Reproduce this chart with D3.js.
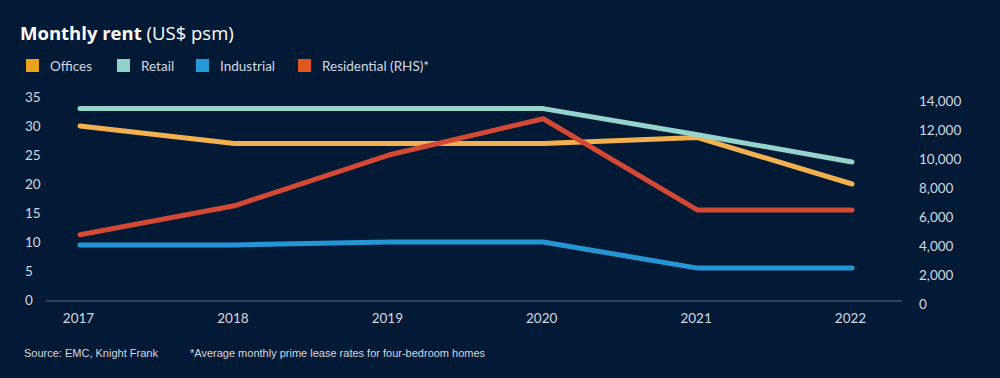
<!DOCTYPE html>
<html>
<head>
<meta charset="utf-8">
<script src="https://cdn.jsdelivr.net/npm/d3@7"></script>
<style>
  html, body { margin: 0; padding: 0; background: #031a37; }
  svg { display: block; }
</style>
</head>
<body>
<svg id="chart" width="1000" height="378"></svg>
<script>
// data
const years = ["2017", "2018", "2019", "2020", "2021", "2022"];
const offices = [30, 27, 27, 27, 28, 20];
const retail = [33, 33, 33, 33, 28.5, 23.8];
const industrial = [9.5, 9.5, 10, 10, 5.5, 5.5];
const residential = [4500, 6500, 10000, 12500, 6200, 6200]; // RHS
const leftTicks = [0, 5, 10, 15, 20, 25, 30, 35];
const rightTicks = [0, 2000, 4000, 6000, 8000, 10000, 12000, 14000];

const series = [
  { name: "Offices", values: offices, axis: "L", line: "#f3b04f", swatch: "#eaa31c" },
  { name: "Retail", values: retail, axis: "L", line: "#95d4cd", swatch: "#8fd3c8" },
  { name: "Industrial", values: industrial, axis: "L", line: "#2596d5", swatch: "#2599d8" },
  { name: "Residential (RHS)*", values: residential, axis: "R", line: "#d44836", swatch: "#e2561f" }
];

const svg = d3.select("#chart");
const W = 1000, H = 378;
const FONT = "Lato, 'Open Sans', sans-serif";
const txtCol = "#d3d8e0";

svg.append("rect").attr("width", W).attr("height", H).attr("fill", "#031a37");

const x = d3.scalePoint().domain(years).range([80, 852]);
const yL = d3.scaleLinear().domain([0, 35]).range([300, 97]);
const yR = d3.scaleLinear().domain([0, 14000]).range([300, 97]);

// Tiêu đề
const title = svg.append("text")
  .attr("x", 20).attr("y", 40)
  .style("font-family", "'Open Sans', sans-serif")
  .style("font-size", "18.5px")
  .attr("fill", "#ffffff");
title.append("tspan").style("font-weight", "bold").text("Monthly rent ");
title.append("tspan").style("font-weight", "normal").text("(US$ psm)");

// Legend
const legendX = [26, 117, 196, 298];
const lg = svg.append("g").selectAll("g")
  .data(series).enter().append("g")
  .attr("transform", (d, i) => `translate(${legendX[i]},59)`);
lg.append("rect").attr("width", 13).attr("height", 13).attr("fill", d => d.swatch);
lg.append("text")
  .attr("x", 24).attr("y", 11.5)
  .style("font-family", FONT).style("font-size", "13.5px")
  .attr("fill", txtCol)
  .text(d => d.name);

// Trục trái
const axL = svg.append("g")
  .call(d3.axisLeft(yL).tickValues(leftTicks).tickSize(0).tickPadding(0));
axL.select(".domain").remove();
axL.selectAll("text")
  .attr("x", 25).attr("text-anchor", "start")
  .style("font-family", FONT).style("font-size", "13.5px")
  .attr("fill", txtCol);

// Trục phải
const axR = svg.append("g")
  .call(d3.axisRight(yR).tickValues(rightTicks).tickSize(0).tickPadding(0).tickFormat(d3.format(",")));
axR.select(".domain").remove();
axR.selectAll("text")
  .attr("x", 919).attr("dy", "0.6em")
  .style("font-family", FONT).style("font-size", "13.5px")
  .attr("fill", txtCol);

// Trục x
const axX = svg.append("g")
  .attr("transform", "translate(0,301)")
  .call(d3.axisBottom(x).tickSize(0).tickPadding(12));
axX.select(".domain").remove();
axX.selectAll("text")
  .attr("dx", -2)
  .style("font-family", FONT).style("font-size", "13.5px")
  .attr("fill", txtCol);

svg.append("line")
  .attr("x1", 46).attr("x2", 902).attr("y1", 301).attr("y2", 301)
  .attr("stroke", "#5c6d88").attr("stroke-width", 1);

// Đường
const lineL = d3.line().x((d, i) => x(years[i])).y(d => yL(d));
const lineR = d3.line().x((d, i) => x(years[i])).y(d => yR(d));

svg.append("g").selectAll("path")
  .data(series).enter().append("path")
  .attr("d", d => (d.axis === "L" ? lineL : lineR)(d.values))
  .attr("fill", "none")
  .attr("stroke", d => d.line)
  .attr("stroke-width", 5)
  .attr("stroke-linejoin", "round")
  .attr("stroke-linecap", "round");

// Footer
const FOOT = "'Liberation Sans Narrow', 'Arial Narrow', sans-serif";
svg.append("text")
  .attr("x", 24).attr("y", 357)
  .style("font-family", FOOT).style("font-size", "11px")
  .attr("fill", txtCol)
  .text("Source: EMC, Knight Frank");
svg.append("text")
  .attr("x", 190).attr("y", 357)
  .style("font-family", FOOT).style("font-size", "11px")
  .attr("fill", txtCol)
  .text("*Average monthly prime lease rates for four-bedroom homes");
</script>
</body>
</html>
